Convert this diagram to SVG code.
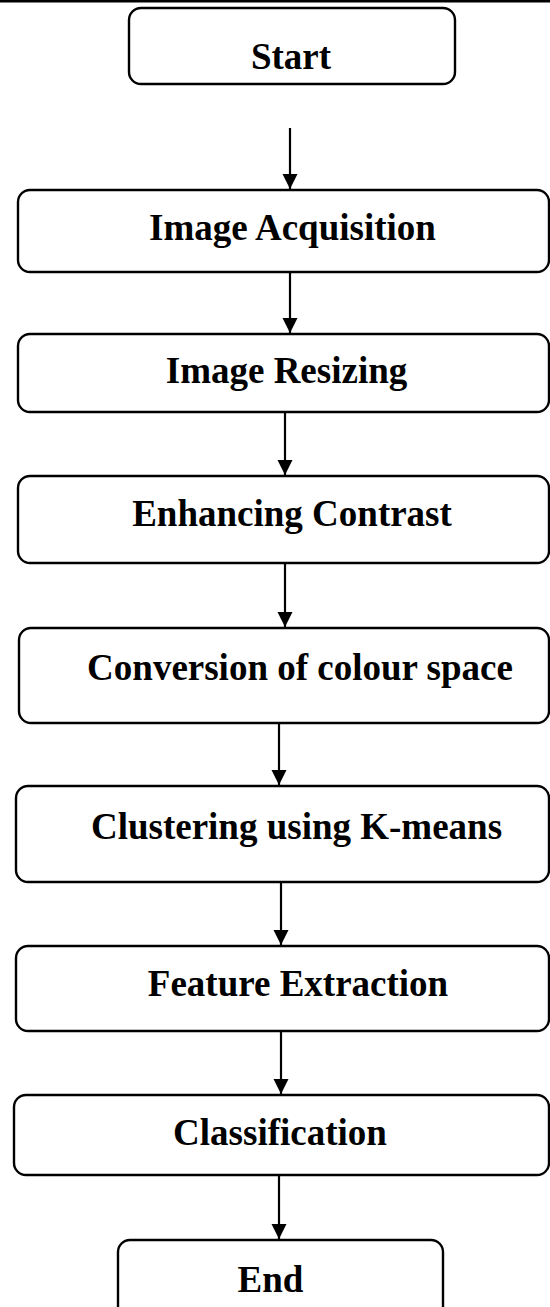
<svg xmlns="http://www.w3.org/2000/svg" width="550" height="1307" viewBox="0 0 550 1307">
  <defs>
    <marker id="arrow" markerWidth="16" markerHeight="16" refX="15" refY="8" orient="auto" markerUnits="userSpaceOnUse">
      <path d="M0,0.5 L15,8 L0,15.5 Z" fill="#000"/>
    </marker>
  </defs>
  <style>
    .box { fill: #fff; stroke: #000; stroke-width: 2.4; }
    .label { font-family: "Liberation Serif", "Times New Roman", serif; font-weight: bold; font-size: 37px; fill: #000; text-anchor: middle; }
    .conn { stroke: #000; stroke-width: 2.2; fill: none; marker-end: url(#arrow); }
  </style>
  <rect x="0" y="0" width="550" height="1307" fill="#fff"/>
  <!-- top rule -->
  <rect x="0" y="0" width="550" height="2.5" fill="#000"/>

  <g id="start">
    <rect class="box" x="129" y="8" width="326" height="76" rx="12"/>
    <text class="label" x="291" y="69">Start</text>
  </g>
  <g id="image-acquisition">
    <rect class="box" x="18" y="190" width="531" height="82" rx="12"/>
    <text class="label" x="292.5" y="240">Image Acquisition</text>
  </g>
  <g id="image-resizing">
    <rect class="box" x="18" y="334" width="531" height="78" rx="12"/>
    <text class="label" x="286.5" y="383">Image Resizing</text>
  </g>
  <g id="enhancing-contrast">
    <rect class="box" x="18" y="476" width="531" height="87" rx="12"/>
    <text class="label" x="292" y="526">Enhancing Contrast</text>
  </g>
  <g id="colour-space">
    <rect class="box" x="19" y="628" width="530" height="95" rx="12"/>
    <text class="label" x="300" y="680">Conversion of colour space</text>
  </g>
  <g id="clustering">
    <rect class="box" x="16" y="786" width="533" height="96" rx="12"/>
    <text class="label" x="296.5" y="839">Clustering using K-means</text>
  </g>
  <g id="feature-extraction">
    <rect class="box" x="16" y="946" width="533" height="85" rx="12"/>
    <text class="label" x="298" y="996">Feature Extraction</text>
  </g>
  <g id="classification">
    <rect class="box" x="14" y="1095" width="535" height="80" rx="12"/>
    <text class="label" x="280" y="1145">Classification</text>
  </g>
  <g id="end">
    <rect class="box" x="118" y="1240" width="325" height="80" rx="12"/>
    <text class="label" x="270.5" y="1292">End</text>
  </g>

  <g id="connectors">
    <line class="conn" x1="290" y1="128" x2="290" y2="189"/>
    <line class="conn" x1="290" y1="272" x2="290" y2="333"/>
    <line class="conn" x1="285" y1="412" x2="285" y2="475"/>
    <line class="conn" x1="285" y1="563" x2="285" y2="627"/>
    <line class="conn" x1="279" y1="723" x2="279" y2="785"/>
    <line class="conn" x1="281" y1="882" x2="281" y2="945"/>
    <line class="conn" x1="281" y1="1031" x2="281" y2="1094"/>
    <line class="conn" x1="279" y1="1175" x2="279" y2="1239"/>
  </g>
</svg>
